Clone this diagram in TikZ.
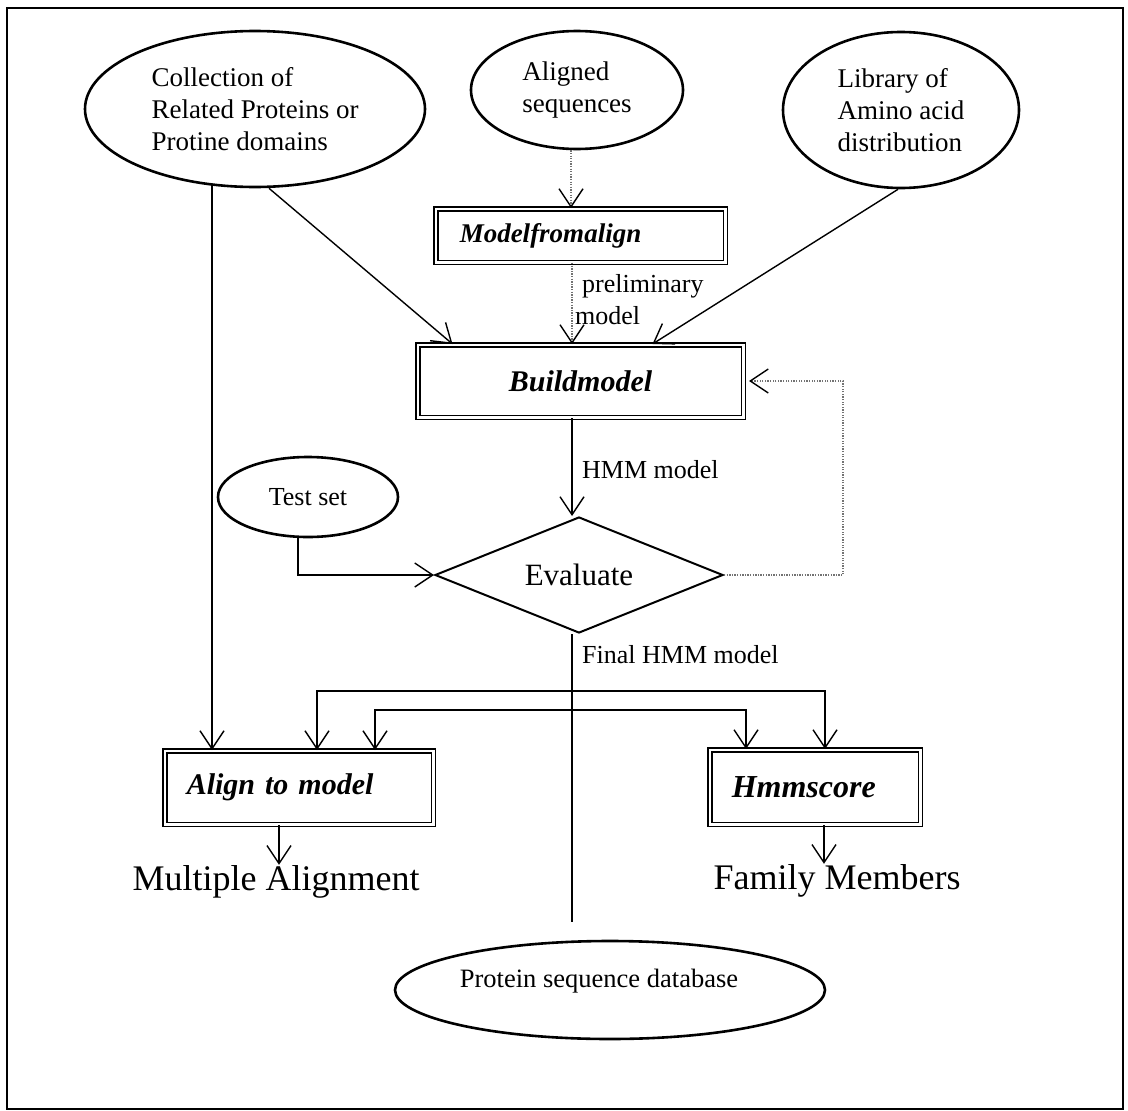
\documentclass[tikz,border=0pt]{standalone}
\usepackage{fontspec}
\setmainfont{Liberation Serif}
\usetikzlibrary{arrows.meta,shapes.geometric}
\begin{document}
\begin{tikzpicture}[x=1pt,y=-1pt,
  tipV/.style={-{Straight Barb[length=18pt,width=24pt,line width=1.4pt,color=black]}},
  conn/.style={line width=1.4pt,tipV},
  plainline/.style={line width=1.4pt},
  dots/.style={line width=1.4pt,black!55,dash pattern=on 1.3pt off 1.3pt,tipV},
  oval/.style={ellipse,draw,line width=2.6pt,inner sep=0pt,align=left,font=\fontsize{27}{32}\selectfont},
  dbox/.style={rectangle,draw,double,line width=1.5pt,double distance=2.5pt,inner ysep=0pt,font=\fontsize{30}{36}\selectfont\bfseries\itshape},
  lbl/.style={anchor=west,inner sep=0pt,font=\fontsize{26}{30}\selectfont},
  big/.style={anchor=base,inner sep=0pt,font=\fontsize{36}{42}\selectfont}
]
\useasboundingbox (0,0) rectangle (1128,1111);
\draw[line width=1.6pt] (7,8) rectangle (1123,1109);

% top ellipses
\node[oval,minimum width=340pt,minimum height=156pt] (coll) at (255,109) {Collection of\\Related Proteins or\\Protine domains};
\node[oval,minimum width=212pt,minimum height=118pt] (alseq) at (577,90) {Aligned\\sequences};
\node[oval,minimum width=236pt,minimum height=156pt] (lib) at (901,110) {Library of\\Amino acid\\distribution};

% boxes
\node[dbox,minimum width=289.5pt,minimum height=53.5pt,text width=241.5pt,inner xsep=24pt,align=left,font=\fontsize{27}{32}\selectfont\bfseries\itshape] (mfa) at (580.5,235.5) {Modelfromalign};
\node[dbox,minimum width=325.5pt,minimum height=72.5pt,align=center] (bm) at (580.5,381) {Buildmodel};
\node[dbox,minimum width=268.5pt,minimum height=73.5pt,text width=224.5pt,inner xsep=22pt,align=left] (atm) at (299,787.5) {Align to model};
\node[dbox,minimum width=210.5pt,minimum height=74.5pt,text width=166.5pt,inner xsep=22pt,align=left,font=\fontsize{32}{38}\selectfont\bfseries\itshape] (hs) at (815,787) {Hmmscore};

% evaluate diamond and test set
\node[diamond,draw,line width=2pt,inner sep=0pt,aspect=2.5,minimum width=288pt,minimum height=116pt,font=\fontsize{31}{36}\selectfont] (ev) at (579,575) {Evaluate};
\node[ellipse,draw,line width=2.6pt,inner sep=0pt,minimum width=180pt,minimum height=80pt,font=\fontsize{26}{30}\selectfont] (ts) at (308,497) {Test set};

% database
\node[ellipse,draw,line width=2.6pt,inner sep=0pt,minimum width=430pt,minimum height=98pt] (db) at (610,990) {};
\node[inner sep=0pt,font=\fontsize{26.5}{30}\selectfont] (dbt) at (599,981) {Protein sequence database};

% outputs
\node[big] (ma) at (276,890) {Multiple Alignment};
\node[big] (fm) at (837,889) {Family Members};

% labels
\node[lbl] (lpre) at (582,286) {preliminary};
\node[lbl] (lmod) at (575,316) {model};
\node[lbl] (lhmm) at (582,470) {HMM model};
\node[lbl] (lfin) at (582,655) {Final HMM model};

% connectors
\draw[dots] ([xshift=-6pt]alseq.south) -- ([xshift=-6pt]alseq.south |- mfa.north);
\draw[dots] ([xshift=-8.5pt]mfa.south) -- ([xshift=-8.5pt]mfa.south |- bm.north);
\draw[conn] ([xshift=14pt]coll.south) -- ([xshift=-128pt]bm.north);
\draw[conn] ([xshift=-3pt]lib.south) -- ([xshift=72pt]bm.north);
\draw[conn] ([xshift=-43pt,yshift=3pt]coll.south) -- ([xshift=-43pt]coll.south |- atm.north);
\draw[conn] ([xshift=-8.5pt]bm.south) -- ([xshift=-8.5pt]bm.south |- ev.north);
\draw[conn] ([xshift=-10pt]ts.south) |- (ev.west);
\draw[dots,shorten >=5pt] (ev.east) -- ++(119,0) |- (bm.east);

\coordinate (vend) at (572,922);
\coordinate (bu) at (572,691);
\coordinate (bl) at (572,710);
\draw[plainline] ([xshift=-7pt]ev.south) -- (vend);
\draw[conn] (bu) -| ([xshift=18pt]atm.north);
\draw[conn] (bu) -| ([xshift=10pt]hs.north);
\draw[conn] (bl) -| ([xshift=76pt]atm.north);
\draw[conn] (bl) -| ([xshift=-69pt]hs.north);

\draw[conn] ([xshift=-20pt]atm.south) -- ([xshift=-20pt]atm.south |- ma.north);
\draw[conn] ([xshift=9pt]hs.south) -- ([xshift=9pt]hs.south |- fm.north);
\end{tikzpicture}
\end{document}
